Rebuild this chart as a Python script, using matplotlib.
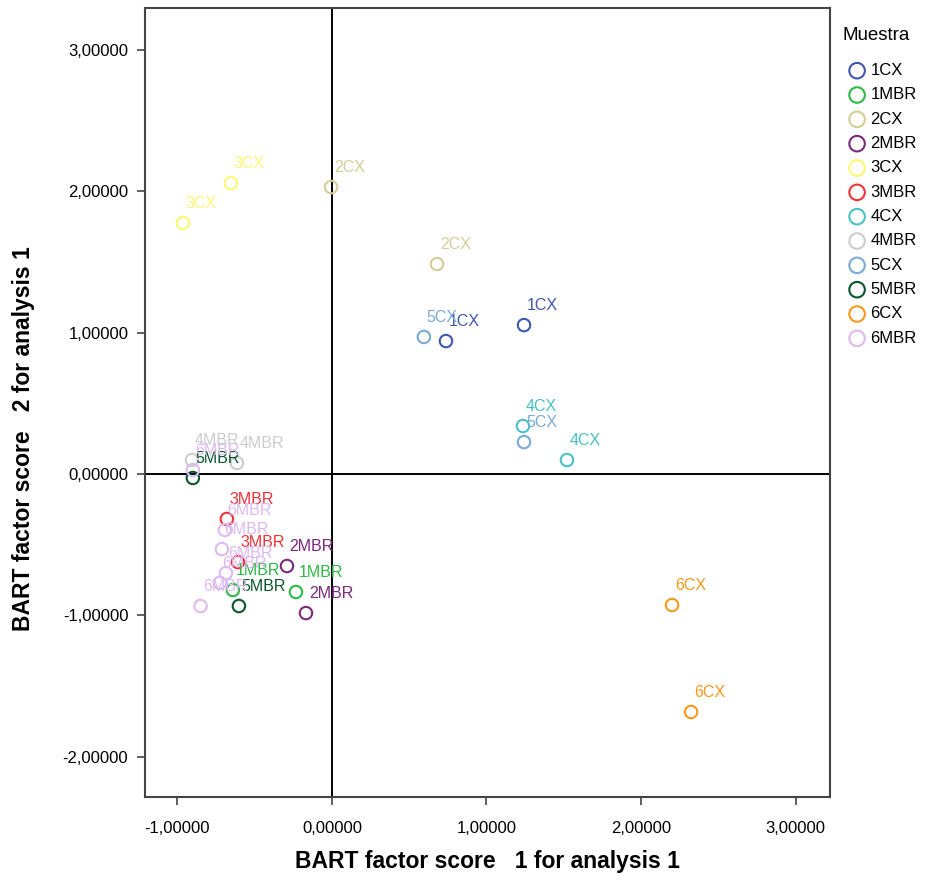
import numpy as np
import matplotlib
matplotlib.use('Agg')
import matplotlib.pyplot as plt

plt.rcParams['font.family'] = ['Liberation Sans', 'DejaVu Sans']

# sample groups, legend order
muestras = ['1CX', '1MBR', '2CX', '2MBR', '3CX', '3MBR',
            '4CX', '4MBR', '5CX', '5MBR', '6CX', '6MBR']
colores = ['#3E58AC', '#2EB848', '#D3CE97', '#7C287D', '#FBF873', '#EF3338',
           '#48C2C5', '#CCCCCC', '#7AAAD5', '#0A562C', '#F8981D', '#DDBAF1']

# factor scores (factor 1, factor 2)
f1 = {
    '1CX': [1.243, 0.738],
    '1MBR': [-0.641, -0.233],
    '2CX': [-0.006, 0.680],
    '2MBR': [-0.291, -0.168],
    '3CX': [-0.654, -0.964],
    '3MBR': [-0.680, -0.608],
    '4CX': [1.236, 1.521],
    '4MBR': [-0.906, -0.615],
    '5CX': [0.595, 1.243],
    '5MBR': [-0.900, -0.602],
    '6CX': [2.201, 2.324],
    '6MBR': [-0.900, -0.693, -0.712, -0.686, -0.725, -0.850],
}
f2 = {
    '1CX': [1.054, 0.941],
    '1MBR': [-0.821, -0.835],
    '2CX': [2.031, 1.486],
    '2MBR': [-0.651, -0.984],
    '3CX': [2.059, 1.776],
    '3MBR': [-0.318, -0.623],
    '4CX': [0.340, 0.099],
    '4MBR': [0.099, 0.078],
    '5CX': [0.970, 0.226],
    '5MBR': [-0.028, -0.934],
    '6CX': [-0.927, -1.684],
    '6MBR': [0.028, -0.396, -0.531, -0.701, -0.770, -0.934],
}

fig = plt.figure(figsize=(9.31, 8.81), dpi=100)
ax = fig.add_axes([0.1557, 0.0953, 0.7358, 0.8956])

ax.axvline(0, color='black', lw=1.4, zorder=1)
ax.axhline(0, color='black', lw=1.4, zorder=1)

for m, c in zip(muestras, colores):
    ax.scatter(f1[m], f2[m], s=80, facecolors='none', edgecolors=c,
               linewidths=1.5, label=m, zorder=3)
    for x, y in zip(f1[m], f2[m]):
        ax.annotate(m, (x, y), xytext=(2, 8.5), textcoords='offset points',
                    ha='left', va='bottom', color=c, fontsize=11.5, zorder=4)

ax.set_xlim(-1.21, 3.223)
ax.set_ylim(-2.286, 3.298)
ax.set_xticks([-1, 0, 1, 2, 3])
ax.set_yticks([-2, -1, 0, 1, 2, 3])
fmt = lambda v: f'{v:.5f}'.replace('.', ',')
ax.set_xticklabels([fmt(v) for v in ax.get_xticks()])
ax.set_yticklabels([fmt(v) for v in ax.get_yticks()])
ax.tick_params(length=6, width=1.2, labelsize=12, color='#444444')
ax.tick_params(axis='x', pad=11)
ax.tick_params(axis='y', pad=6)
for s in ax.spines.values():
    s.set_linewidth(1.5)
    s.set_color('#444444')

lab_font = dict(fontsize=16.5, fontweight='bold',
                family=['Liberation Sans Narrow', 'Liberation Sans', 'DejaVu Sans'])
ax.set_xlabel('BART factor score   1 for analysis 1', labelpad=10, **lab_font)
ax.set_ylabel('BART factor score   2 for analysis 1', **lab_font)
ax.yaxis.set_label_coords(-0.16, 0.454)

fig.text(843 / 931, 1 - 35 / 881, 'Muestra', fontsize=13.5, va='center', ha='left')
leg = fig.legend(loc='upper left', bbox_to_anchor=(0.900, 0.936), frameon=False,
                 fontsize=12, handletextpad=0.05, labelspacing=0.56,
                 handlelength=1.5, borderaxespad=0, markerscale=1.25)

fig.savefig('out.png', dpi=100)
